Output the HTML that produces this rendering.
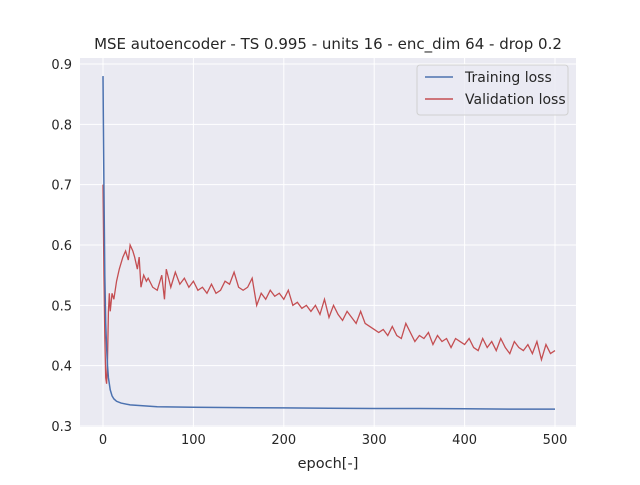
<!DOCTYPE html>
<html><head><meta charset="utf-8"><style>
body{margin:0;background:#fff;font-family:"Liberation Sans","DejaVu Sans",sans-serif}
svg text{font-family:"DejaVu Sans","Liberation Sans",sans-serif}
</style></head><body>
<svg id="c" width="640" height="480"></svg>
<script>
const trainEpochs=[0,1,2,3,4,5,6,8,10,12,15,20,30,40,60,100,150,200,250,300,350,400,450,500];
const trainLoss=[0.88,0.70,0.55,0.47,0.43,0.40,0.38,0.36,0.35,0.345,0.341,0.338,0.335,0.334,0.332,0.331,0.3305,0.330,0.3295,0.329,0.329,0.3285,0.328,0.328];
const valEpochs=[0,1,2,3,4,5,6,7,8,10,12,15,18,20,22,25,28,30,33,35,38,40,42,45,48,50,55,60,65,68,70,75,80,85,90,95,100,105,110,115,120,125,130,135,140,145,150,155,160,165,170,175,180,185,190,195,200,205,210,215,220,225,230,235,240,245,250,255,260,265,270,275,280,285,290,295,300,305,310,315,320,325,330,335,340,345,350,355,360,365,370,375,380,385,390,395,400,405,410,415,420,425,430,435,440,445,450,455,460,465,470,475,480,485,490,495,500];
const valLoss=[0.70,0.55,0.45,0.38,0.37,0.41,0.49,0.52,0.49,0.52,0.51,0.54,0.56,0.57,0.58,0.59,0.575,0.60,0.59,0.58,0.56,0.58,0.53,0.55,0.54,0.545,0.53,0.525,0.55,0.51,0.56,0.53,0.555,0.535,0.545,0.53,0.54,0.525,0.53,0.52,0.535,0.52,0.525,0.54,0.535,0.555,0.53,0.525,0.53,0.545,0.50,0.52,0.51,0.525,0.515,0.52,0.51,0.525,0.50,0.505,0.495,0.50,0.49,0.50,0.485,0.51,0.48,0.50,0.485,0.475,0.49,0.48,0.47,0.49,0.47,0.465,0.46,0.455,0.46,0.45,0.465,0.45,0.445,0.47,0.455,0.44,0.45,0.445,0.455,0.435,0.45,0.44,0.445,0.43,0.445,0.44,0.435,0.445,0.43,0.425,0.445,0.43,0.44,0.425,0.445,0.43,0.42,0.44,0.43,0.425,0.435,0.42,0.44,0.41,0.435,0.42,0.425];
const xTicks=[0,100,200,300,400,500];
const yTicks=[0.3,0.4,0.5,0.6,0.7,0.8,0.9];
const L=80,R=576,T=58,B=427;
const X=v=>103+(v/500)*452;
const Y=v=>426-(v-0.3)/0.6*362;
const svg=document.getElementById('c');
const NS='http://www.w3.org/2000/svg';
function el(t,a,p){const e=document.createElementNS(NS,t);for(const k in a)e.setAttribute(k,a[k]);(p||svg).appendChild(e);return e;}
let bg=el('rect',{x:L,y:T,width:R-L,height:B-T,fill:'#eaeaf2'});


xTicks.forEach(t=>{const g=el('line',{x1:X(t),x2:X(t),y1:T,y2:B,stroke:'#fff','stroke-width':1});


const tx=el('text',{x:X(t),y:B+17,'text-anchor':'middle','font-size':13,fill:'#262626'});tx.textContent=t;

});
yTicks.forEach(t=>{const g=el('line',{x1:L,x2:R,y1:Y(t),y2:Y(t),stroke:'#fff','stroke-width':1});


const tx=el('text',{x:L-8,y:Y(t)+5,'text-anchor':'end','font-size':13,fill:'#262626'});tx.textContent=t.toFixed(1);

});
const pv=el('polyline',{points:valEpochs.map((e,i)=>X(e)+','+Y(valLoss[i])).join(' '),fill:'none',stroke:'#c44e52','stroke-width':1.3});


const pt=el('polyline',{points:trainEpochs.map((e,i)=>X(e)+','+Y(trainLoss[i])).join(' '),fill:'none',stroke:'#4c72b0','stroke-width':1.5});


const ti=el('text',{x:328,y:49,'text-anchor':'middle','font-size':15,fill:'#262626'});ti.textContent='MSE autoencoder - TS 0.995 - units 16 - enc_dim 64 - drop 0.2';


const xl=el('text',{x:328,y:468,'text-anchor':'middle','font-size':14.5,fill:'#262626'});xl.textContent='epoch[-]';


const lg=el('g',{});


el('rect',{x:417,y:65,width:151,height:50,rx:3,fill:'#eaeaf2',stroke:'#d0d0d0','fill-opacity':0.8},lg);
[['Training loss','#4c72b0',77],['Validation loss','#c44e52',99]].forEach(([n,c,y])=>{
const ln=el('line',{x1:425,x2:453,y1:y,y2:y,stroke:c,'stroke-width':1.5},lg);


const t=el('text',{x:465,y:y+5,'font-size':14,fill:'#262626'},lg);t.textContent=n;

});
</script>
</body></html>
